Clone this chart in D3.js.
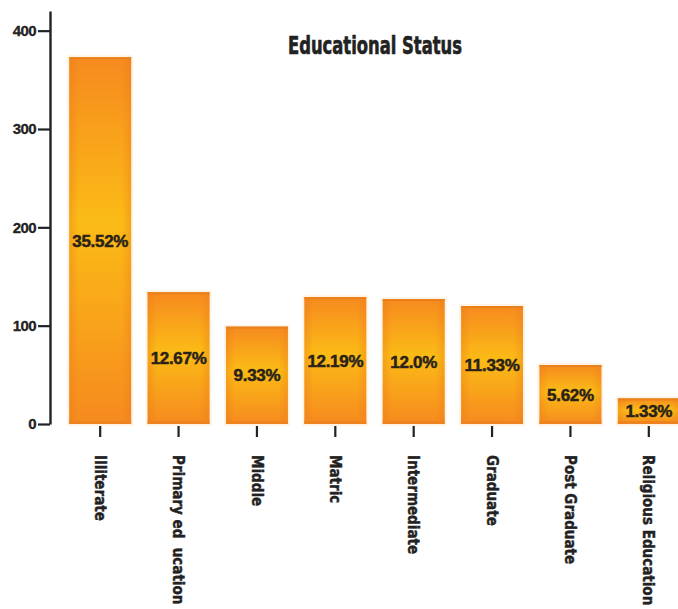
<!DOCTYPE html>
<html>
<head>
<meta charset="utf-8">
<script src="https://cdn.jsdelivr.net/npm/d3@7"></script>
<style>
  html, body { margin: 0; padding: 0; background: #ffffff; }
  svg { display: block; }
  svg text { white-space: pre; }
</style>
</head>
<body>
<svg id="chart" width="678" height="609"></svg>
<script>
// Education levels and respondent counts
const categories = ["Illiterate", "Primary ed  ucation", "Middle", "Matric", "Intermediate", "Graduate", "Post Graduate", "Religious Education"];
const counts = [373, 134, 99, 129, 127, 120, 60, 26];
const percentLabels = ["35.52%", "12.67%", "9.33%", "12.19%", "12.0%", "11.33%", "5.62%", "1.33%"];
const yTicks = [0, 100, 200, 300, 400];
const title = "Educational Status";

const svg = d3.select("#chart");
const ink = "#222222";
const condensed = "DejaVu Sans Condensed, DejaVu Sans, sans-serif";

const x = d3.scaleBand()
  .domain(categories)
  .range([61, 688])
  .paddingInner(0.21)
  .paddingOuter(0.105);

const y = d3.scaleLinear()
  .domain([0, 420])
  .range([424, 11]);

// Orange-to-yellow bar fill
const defs = svg.append("defs");
const grad = defs.append("linearGradient")
  .attr("id", "barFill")
  .attr("x1", 0).attr("y1", 0).attr("x2", 0).attr("y2", 1);
grad.append("stop").attr("offset", "0%").attr("stop-color", "#f68a1f");
grad.append("stop").attr("offset", "45%").attr("stop-color", "#fbbb16");
grad.append("stop").attr("offset", "100%").attr("stop-color", "#f68a1f");

const side = defs.append("linearGradient")
  .attr("id", "barSide")
  .attr("x1", 0).attr("y1", 0).attr("x2", 1).attr("y2", 0);
side.append("stop").attr("offset", "0%").attr("stop-color", "#e9751a").attr("stop-opacity", 0.35);
side.append("stop").attr("offset", "15%").attr("stop-color", "#e9751a").attr("stop-opacity", 0);
side.append("stop").attr("offset", "85%").attr("stop-color", "#e9751a").attr("stop-opacity", 0);
side.append("stop").attr("offset", "100%").attr("stop-color", "#e9751a").attr("stop-opacity", 0.35);

const bars = svg.append("g").attr("class", "bars");
const data = categories.map((c, i) => ({ c, v: counts[i], p: percentLabels[i] }));

// soft halo
bars.selectAll("rect.halo").data(data).join("rect")
  .attr("class", "halo")
  .attr("x", d => x(d.c) - 2)
  .attr("y", d => y(d.v) - 2)
  .attr("width", x.bandwidth() + 4)
  .attr("height", d => y(0) - y(d.v) + 4)
  .attr("fill", "#fdebd3")
  .attr("opacity", 0.6);

bars.selectAll("rect.bar").data(data).join("rect")
  .attr("class", "bar")
  .attr("x", d => x(d.c))
  .attr("y", d => y(d.v))
  .attr("width", x.bandwidth())
  .attr("height", d => y(0) - y(d.v))
  .attr("fill", "url(#barFill)");

bars.selectAll("rect.side").data(data).join("rect")
  .attr("class", "side")
  .attr("x", d => x(d.c))
  .attr("y", d => y(d.v))
  .attr("width", x.bandwidth())
  .attr("height", d => y(0) - y(d.v))
  .attr("fill", "url(#barSide)");

// darker top and bottom edges
bars.selectAll("rect.topEdge").data(data).join("rect")
  .attr("class", "topEdge")
  .attr("x", d => x(d.c))
  .attr("y", d => y(d.v))
  .attr("width", x.bandwidth())
  .attr("height", 2)
  .attr("fill", "#e8801c");
bars.selectAll("rect.botEdge").data(data).join("rect")
  .attr("class", "botEdge")
  .attr("x", d => x(d.c))
  .attr("y", y(0) - 3)
  .attr("width", x.bandwidth())
  .attr("height", 3)
  .attr("fill", "#ee8420");

// percentage labels at bar middles
bars.selectAll("text.pct").data(data).join("text")
  .attr("class", "pct")
  .attr("x", d => x(d.c) + x.bandwidth() / 2)
  .attr("y", d => (y(d.v) + y(0)) / 2)
  .attr("dy", "0.36em")
  .attr("text-anchor", "middle")
  .attr("font-family", "Liberation Sans, Arial, sans-serif")
  .attr("font-weight", "bold")
  .attr("font-size", 17)
  .attr("letter-spacing", -0.3)
  .attr("fill", "#2a2218")
  .attr("stroke", "#2a2218")
  .attr("stroke-width", 0.5)
  .text(d => d.p);

// y axis
const yAxis = svg.append("g")
  .attr("transform", "translate(50,0)")
  .call(d3.axisLeft(y).tickValues(yTicks).tickSize(12).tickSizeOuter(0).tickPadding(2));
yAxis.select(".domain").attr("stroke", ink).attr("stroke-width", 2.4);
yAxis.selectAll(".tick line").attr("stroke", ink).attr("stroke-width", 2.2);
yAxis.selectAll(".tick text")
  .attr("fill", ink)
  .attr("stroke", ink)
  .attr("stroke-width", 0.3)
  .attr("font-family", "Liberation Sans, Arial, sans-serif")
  .attr("font-weight", "bold")
  .attr("font-size", 15)
  .attr("letter-spacing", -0.6);

// x axis: ticks and rotated labels, no baseline
const xAxis = svg.append("g")
  .attr("transform", "translate(0,426)")
  .call(d3.axisBottom(x).tickSize(11).tickSizeOuter(0).tickPadding(0));
xAxis.select(".domain").remove();
xAxis.selectAll(".tick line").attr("stroke", ink).attr("stroke-width", 2.2);
xAxis.selectAll(".tick text")
  .attr("fill", ink)
  .attr("stroke", ink)
  .attr("stroke-width", 0.4)
  .attr("font-family", condensed)
  .attr("font-weight", "bold")
  .attr("font-size", 15)
  .attr("text-anchor", "start")
  .attr("transform", "translate(0,29) rotate(90)")
  .attr("x", 0)
  .attr("y", 0)
  .attr("dy", "0.36em");

// title
svg.append("text")
  .attr("x", 375)
  .attr("y", 54)
  .attr("text-anchor", "middle")
  .attr("font-family", condensed)
  .attr("font-weight", "bold")
  .attr("font-size", 24)
  .attr("textLength", 174)
  .attr("lengthAdjust", "spacingAndGlyphs")
  .attr("fill", ink)
  .attr("stroke", ink)
  .attr("stroke-width", 0.6)
  .text(title);
</script>
</body>
</html>
